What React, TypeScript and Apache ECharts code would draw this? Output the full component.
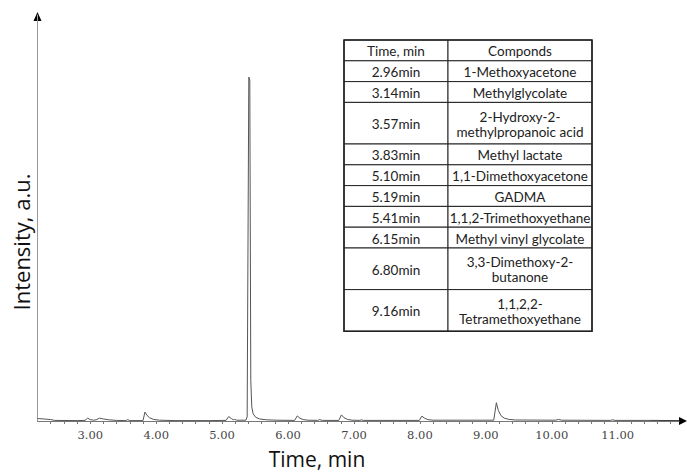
import React, { useEffect, useRef } from "react";
import * as echarts from "echarts";

// Chromatogram trace (time in min, intensity in a.u. as % of axis height)
const times = [
  2.2, 2.3, 2.4, 2.46, 2.8, 2.92, 2.96, 3.0, 3.05, 3.09, 3.14, 3.2, 3.28, 3.4, 3.54, 3.57, 3.6,
  3.8, 3.83, 3.86, 3.9, 3.96, 4.05, 4.3, 4.8, 5.06, 5.1, 5.14, 5.17, 5.19, 5.22, 5.36, 5.38,
  5.405, 5.42, 5.435, 5.45, 5.47, 5.51, 5.57, 5.67, 5.82, 6.1, 6.14, 6.18, 6.23, 6.3, 6.45, 6.48, 6.52,
  6.77, 6.81, 6.85, 6.9, 6.97, 7.09, 7.11, 7.14, 7.99, 8.03, 8.07, 8.12, 8.2, 9.12, 9.16, 9.19,
  9.23, 9.28, 9.35, 9.45, 10.06, 10.1, 10.15, 10.89, 10.92, 10.96, 11.63,
];
const intensity = [
  0.6, 0.5, 0.35, 0.15, 0.1, 0.15, 0.7, 0.35, 0.2, 0.3, 0.7, 0.5, 0.3, 0.15, 0.1, 0.35, 0.1,
  0.1, 2.2, 1.4, 0.8, 0.4, 0.2, 0.1, 0.1, 0.15, 1.1, 0.6, 0.3, 0.4, 0.2, 0.2, 1.0,
  84.7, 84, 10, 3.5, 1.8, 0.9, 0.5, 0.3, 0.2, 0.15, 1.25, 0.7, 0.35, 0.2, 0.15, 0.35, 0.15,
  0.15, 1.5, 0.8, 0.4, 0.2, 0.15, 0.3, 0.15, 0.15, 1.2, 0.7, 0.35, 0.2, 0.2, 4.5, 2.6,
  1.3, 0.7, 0.4, 0.25, 0.2, 0.4, 0.2, 0.15, 0.3, 0.15, 0.15,
];

// Table contents
const tableHeader = ["Time, min", "Componds"];
const retentionTimes = [
  "2.96min", "3.14min", "3.57min", "3.83min", "5.10min", "5.19min",
  "5.41min", "6.15min", "6.80min", "9.16min",
];
const compounds = [
  "1-Methoxyacetone",
  "Methylglycolate",
  "2-Hydroxy-2-\nmethylpropanoic acid",
  "Methyl lactate",
  "1,1-Dimethoxyacetone",
  "GADMA",
  "1,1,2-Trimethoxyethane",
  "Methyl vinyl glycolate",
  "3,3-Dimethoxy-2-\nbutanone",
  "1,1,2,2-\nTetramethoxyethane",
];

const xMin = 2.2;
const xMax = 11.93;

function buildTable() {
  const x0 = 344;
  const y0 = 40;
  const c1 = 104;
  const c2 = 144;
  const unit = 20.8;
  const children: any[] = [];
  const rows = [tableHeader, ...retentionTimes.map((t, i) => [t, compounds[i]])];
  let y = y0;
  rows.forEach((r) => {
    const lines = r[1].split("\n").length;
    const h = unit * lines;
    children.push({
      type: "rect",
      shape: { x: x0, y, width: c1, height: h },
      style: { fill: "#fff", stroke: "#222", lineWidth: 1 },
    });
    children.push({
      type: "rect",
      shape: { x: x0 + c1, y, width: c2, height: h },
      style: { fill: "#fff", stroke: "#222", lineWidth: 1 },
    });
    children.push({
      type: "text",
      style: {
        text: r[0], x: x0 + c1 / 2, y: y + h / 2 + 1, align: "center", verticalAlign: "middle",
        fontSize: 13.5, fontFamily: "Lato", fill: "#222",
      },
    });
    children.push({
      type: "text",
      style: {
        text: r[1], x: x0 + c1 + c2 / 2, y: y + h / 2 + 1, align: "center", verticalAlign: "middle",
        fontSize: 13.5, fontFamily: "Lato", fill: "#222", lineHeight: 15,
      },
    });
    y += h;
  });
  children.push({
    type: "rect",
    shape: { x: x0, y: y0, width: c1 + c2, height: y - y0 },
    style: { fill: "none", stroke: "#222", lineWidth: 1.6 },
  });
  return { type: "group", children };
}

export default function App() {
  const ref = useRef<HTMLDivElement>(null);
  useEffect(() => {
    if (!ref.current) return;
    const chart = echarts.init(ref.current, null, { renderer: "svg" });
    chart.setOption({
      animation: false,
      backgroundColor: "#fff",
      grid: { left: 37.5, right: 8, top: 15, bottom: 53 },
      xAxis: {
        type: "value",
        min: xMin,
        max: xMax,
        interval: 0.2,
        axisLine: { show: true, lineStyle: { color: "#777", width: 1 } },
        axisTick: { show: true, length: 3, lineStyle: { color: "#777" } },
        splitLine: { show: false },
        axisLabel: {
          showMinLabel: false,
          showMaxLabel: false,
          margin: 8,
          color: "#444",
          fontSize: 11.5,
          fontFamily: "DejaVu Serif",
          formatter: (v: number) =>
            Math.abs(v - Math.round(v)) < 1e-6 ? v.toFixed(2) : "",
        },
      },
      yAxis: {
        type: "value",
        min: 0,
        max: 100,
        axisLine: { show: true, lineStyle: { color: "#999", width: 1 } },
        axisTick: { show: false },
        axisLabel: { show: false },
        splitLine: { show: false },
      },
      series: [
        {
          type: "line",
          data: times.map((t, i) => [t, intensity[i]]),
          showSymbol: false,
          symbol: "none",
          lineStyle: { color: "#555", width: 1 },
        },
      ],
      graphic: [
        {
          type: "polygon",
          shape: { points: [[33.5, 21], [41.5, 21], [37.5, 12]] },
          style: { fill: "#000" },
        },
        {
          type: "line",
          shape: { x1: 650, y1: 421, x2: 680, y2: 421 },
          style: { stroke: "#000", lineWidth: 1.5 },
        },
        {
          type: "polygon",
          shape: { points: [[679, 417], [679, 425], [687, 421]] },
          style: { fill: "#000" },
        },
        {
          type: "text",
          style: {
            text: "Time, min", x: 317, y: 459, align: "center", verticalAlign: "middle",
            fontSize: 21, fontFamily: "Open Sans", fill: "#111",
          },
        },
        {
          type: "text",
          x: 21,
          y: 242,
          rotation: Math.PI / 2,
          style: {
            text: "Intensity, a.u.", x: 0, y: 0, align: "center", verticalAlign: "middle",
            fontSize: 22, fontFamily: "Open Sans", fill: "#111",
          },
        },
        buildTable(),
      ],
    });
    return () => chart.dispose();
  }, []);
  return (
    <div
      ref={ref}
      style={{ position: "absolute", left: 0, top: 0, width: 687, height: 474 }}
    />
  );
}
